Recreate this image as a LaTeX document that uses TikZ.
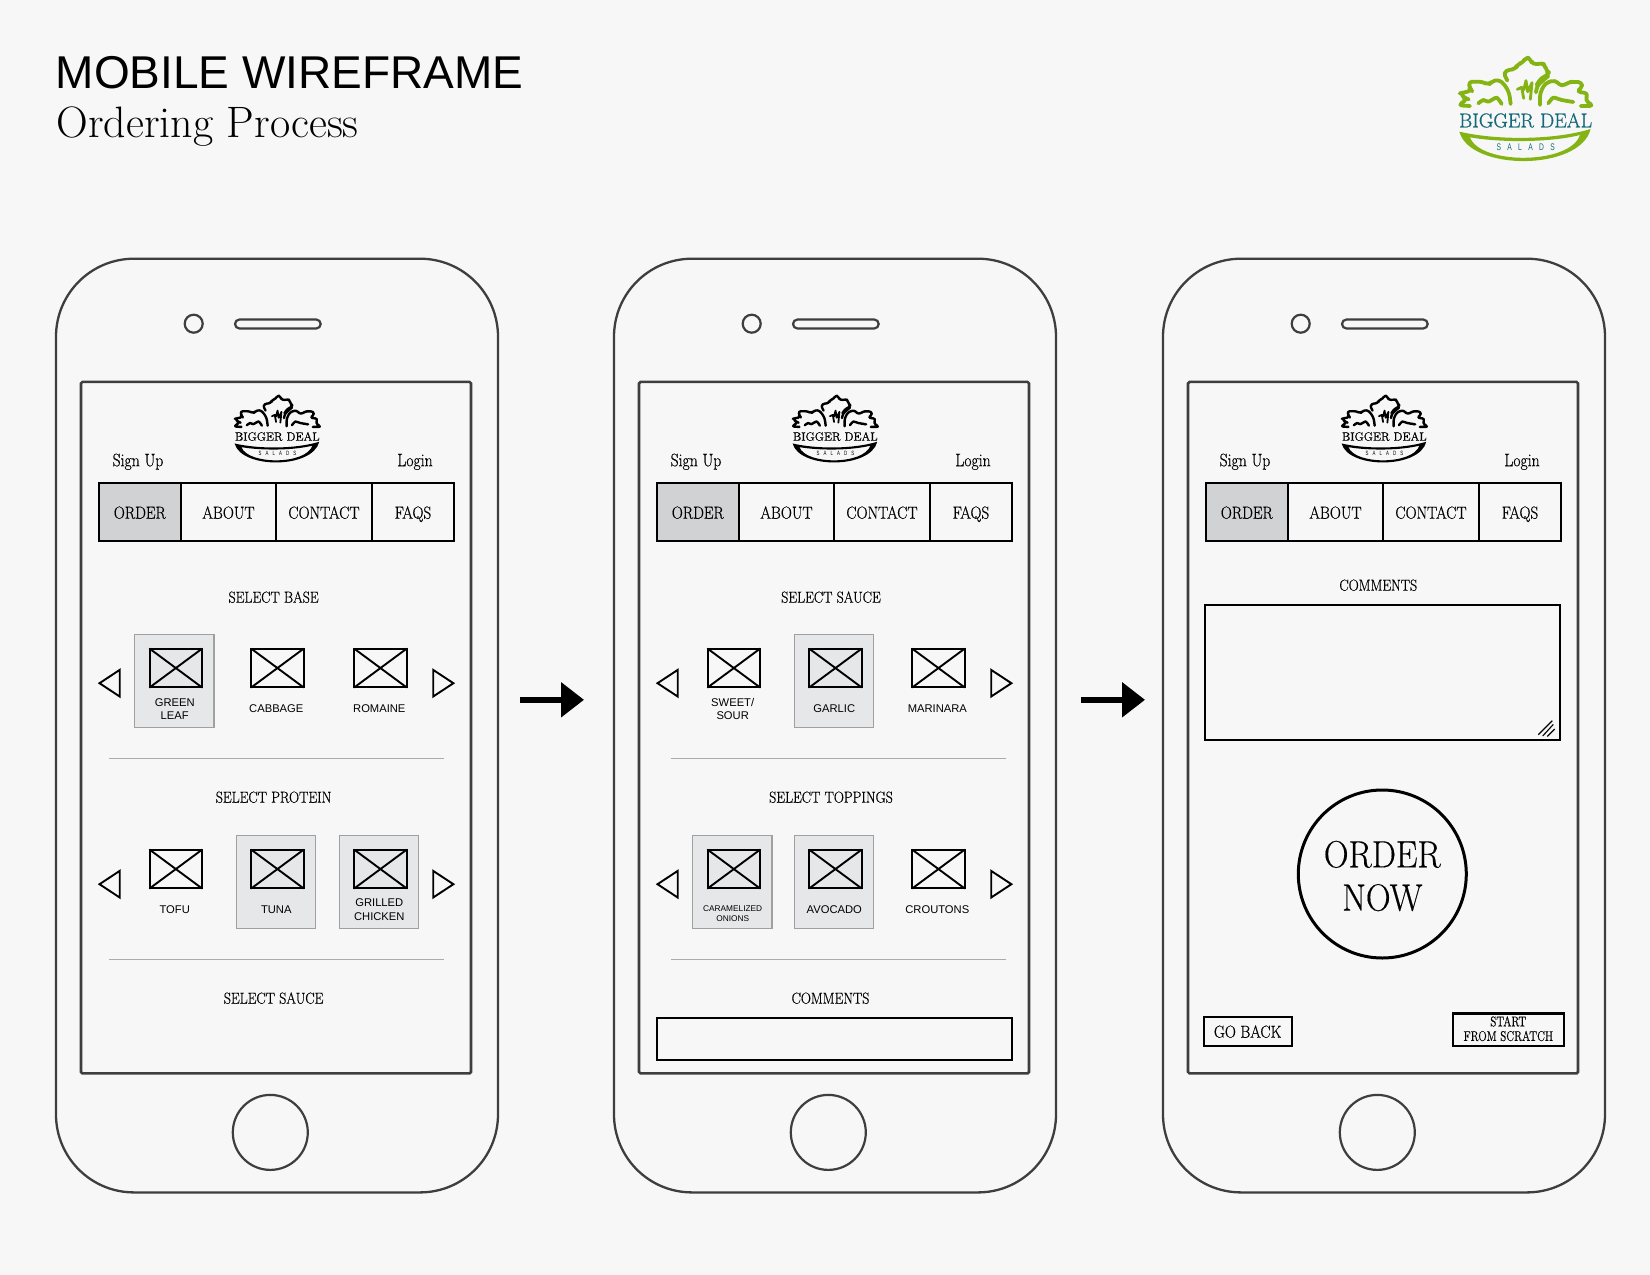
\documentclass[tikz,border=0pt]{standalone}
\usepackage{fontspec}
\usetikzlibrary{arrows.meta}
\setmainfont{Liberation Sans}
\newfontfamily\lmt{Latin Modern Roman}
\newfontfamily\lmb[FakeStretch=0.90,FakeBold=0.4]{Latin Modern Roman}
\newfontfamily\lmc[FakeStretch=0.87,FakeBold=0.5]{Latin Modern Roman}
\newfontfamily\lmn[FakeStretch=0.79,FakeBold=0.5]{Latin Modern Roman}
\newfontfamily\lml[FakeBold=0.8]{Latin Modern Roman}
\newfontfamily\spaced[FakeStretch=0.7,LetterSpace=66]{Liberation Sans}
\definecolor{paper}{HTML}{F7F7F7}
\definecolor{casing}{HTML}{3E3E3E}
\definecolor{navgrey}{HTML}{D1D2D4}
\definecolor{tilegrey}{HTML}{E6E7E9}
\definecolor{tileedge}{HTML}{A0A0A0}
\definecolor{rulegrey}{HTML}{ABABAB}
\definecolor{leafgreen}{HTML}{84B414}
\definecolor{tealtext}{HTML}{15697A}
\tikzset{
  boxnode/.style={inner sep=0pt,outer sep=0pt},
  phonebody/.style={boxnode,draw=casing,line width=2.3pt,rounded corners=78pt},
  screenbox/.style={boxnode,draw=casing,line width=2.6pt,rounded corners=1.5pt},
  navcell/.style={boxnode,draw=black,line width=2.2pt,text height=14pt,text depth=0pt,font=\lmc\fontsize{17.5}{20}\selectfont},
  inputbox/.style={boxnode,draw=black,line width=2.2pt},
  smallbtn/.style={boxnode,draw=black,line width=2.2pt},
  tilebox/.style={boxnode,draw=tileedge,fill=tilegrey,line width=1.2pt},
  imgbox/.style={boxnode,draw=black,line width=1.9pt},
  heading/.style={inner sep=0pt,anchor=base,font=\lmc\fontsize{16}{20}\selectfont},
  linktext/.style={inner sep=0pt,anchor=base,font=\lmc\fontsize{18}{20}\selectfont},
  btntext/.style={inner sep=0pt,align=center,font=\lmn\fontsize{14}{14.6}\selectfont},
  gobacktext/.style={inner sep=0pt,anchor=base,font=\lmc\fontsize{17.4}{20}\selectfont},
  ordertext/.style={inner sep=0pt,align=center,font=\lmb\fontsize{38}{43.3}\selectfont},
  caption/.style={inner sep=0pt,align=center,font=\fontsize{11.2}{13.4}\selectfont},
  tinycaption/.style={inner sep=0pt,align=center,font=\fontsize{8.3}{9.8}\selectfont},
  tridraw/.style={draw=black,line width=1.9pt,line join=miter},
  dividerline/.style={draw=rulegrey,line width=1pt},
  flowarrow/.style={draw=black,line width=5.5pt,-{Triangle[length=23pt,width=34pt]}},
}
% name, style, x1, y1, x2, y2, text
\newcommand\rectn[7]{%
  \pgfmathsetmacro{\rw}{#5-#3}\pgfmathsetmacro{\rh}{#6-#4}%
  \pgfmathsetmacro{\rx}{(#3+#5)/2}\pgfmathsetmacro{\ry}{(#4+#6)/2}%
  \node[#2,minimum width=\rw pt,minimum height=\rh pt] (#1) at (\rx,\ry) {#7};}
% prefix, ox, oy, scale, linewidth, main colour, text colour, big font size, small font size
\newcommand\brandlogo[9]{%
  \begin{scope}[shift={(#2,#3)},x=#4pt,y=-#4pt,draw=#6,line width=#5pt,line cap=round,line join=round]
    \draw[rounded corners=#5pt] (272,222)--(268,190)--(255,165)--(235,148)--(215,155)--(205,165)--(188,155)--(165,155)--(145,155)--(150,175)--(155,182)--(130,188)--(120,190)--(135,205)--(142,207)--(115,226)--(150,228);
    \draw plot[smooth,tension=.4] coordinates {(175,220)(190,210)(205,215)(230,203)(245,222)};
    \draw[rounded corners=#5pt] (262,152)--(250,128)--(268,118)--(287,118)--(292,102)--(310,98)--(318,80)--(332,88)--(338,104)--(362,100)--(375,103)--(378,122)--(390,130)--(372,140)--(358,150)--(350,165);
    \draw plot[smooth,tension=.5] coordinates {(348,187)(355,165)(385,138)};
    \draw[rounded corners=#5pt] (360,225)--(360,190)--(375,160)--(405,150)--(425,170)--(445,157)--(460,155)--(487,157)--(485,175)--(470,185)--(505,190)--(495,210)--(520,228)--(482,228);
    \draw plot[smooth,tension=.4] coordinates {(385,220)(400,203)(425,210)(460,216)};
    \draw[line width=.75*#5pt] (292,178)--(305,172)--(311,205) (311,180)--(318,152)--(323,185)--(336,158)--(331,208);
    \fill[#6,even odd rule] (118,305) .. controls (230,331) and (400,331) .. (512,297)
        .. controls (480,424) and (150,424) .. (118,305) -- cycle
        (150,322) .. controls (240,338) and (390,338) .. (480,315)
        .. controls (450,405) and (180,405) .. (150,322) -- cycle;
    \node[inner sep=0pt,anchor=base,text=#7,font=\lml\fontsize{#8}{#8}\selectfont] (#1big) at (317,292) {BIGGER DEAL};
    \node[inner sep=0pt,anchor=base,text=#7,font=\spaced\fontsize{#9}{#9}\selectfont] (#1small) at (317,362) {SALADS};
  \end{scope}}
% name, img left, img top, selected flag, caption, caption style, caption dy
\newcommand\picktile[7]{%
  \ifnum#4=1
    \pgfmathsetmacro{\tl}{#2-15}\pgfmathsetmacro{\tr}{#2+64.3}%
    \pgfmathsetmacro{\tt}{#3-14}\pgfmathsetmacro{\tb}{#3+78.7}%
    \rectn{#1t}{tilebox}{\tl}{\tt}{\tr}{\tb}{}
  \fi
  \pgfmathsetmacro{\ir}{#2+52.3}\pgfmathsetmacro{\ib}{#3+38.7}%
  \rectn{#1}{imgbox}{#2}{#3}{\ir}{\ib}{}
  \draw[line width=1.9pt,line cap=round] (#1.north west)--(#1.south east) (#1.north east)--(#1.south west);
  \pgfmathsetmacro{\cx}{#2+25}\pgfmathsetmacro{\cy}{#3+#7}%
  \node[#6] (#1c) at (\cx,\cy) {#5};}
% prefix, y of the row centre
\newcommand\rowarrows[2]{%
  \pgfmathsetmacro{\ta}{#2-13.3}\pgfmathsetmacro{\tb}{#2+13.3}%
  \draw[tridraw] (119.7,\ta) coordinate (#1la) -- (99.5,#2) -- (119.7,\tb) -- cycle;
  \draw[tridraw] (433.2,\ta) coordinate (#1ra) -- (453.4,#2) -- (433.2,\tb) -- cycle;}
% prefix
\newcommand\phonebase[1]{%
  \rectn{#1body}{phonebody}{56}{258}{498}{1191.7}{}
  \rectn{#1screen}{screenbox}{81}{381.2}{471}{1072.7}{}
  \node[boxnode,circle,draw=casing,line width=2.2pt,minimum size=18pt] (#1cam) at (193.7,323) {};
  \rectn{#1spk}{boxnode,draw=casing,line width=2.2pt,rounded corners=4.5pt}{235}{318.8}{320.7}{327.8}{}
  \node[boxnode,circle,draw=casing,line width=2.2pt,minimum size=75pt] (#1home) at (270.3,1131.7) {};
  \brandlogo{#1lg}{209.2}{377.2}{0.215}{2.4}{black}{black}{12}{6.2}
  \node[linktext] (#1su) at (138,465.5) {Sign Up};
  \node[linktext] (#1li) at (415,465.5) {Login};
  \rectn{#1n1}{navcell,fill=navgrey}{99}{482}{180.7}{540}{ORDER}
  \rectn{#1n2}{navcell}{180.7}{482}{276.3}{540}{ABOUT}
  \rectn{#1n3}{navcell}{276.3}{482}{371.7}{540}{CONTACT}
  \rectn{#1n4}{navcell}{371.7}{482}{454.3}{540}{FAQS}}
\begin{document}
\begin{tikzpicture}[x=1pt,y=-1pt]
\useasboundingbox (0,0) rectangle (1650,1275);
\fill[paper] (0,0) rectangle (1650,1275);
\node[inner sep=0pt,anchor=base west,font=\fontsize{46}{50}\selectfont] (title) at (55.5,88.5) {MOBILE WIREFRAME};
\node[inner sep=0pt,anchor=base west,font=\lmt\fontsize{44}{50}\selectfont] (subtitle) at (56.5,137.3) {Ordering Process};
\brandlogo{main}{1420}{30}{0.3333}{3.8}{leafgreen}{tealtext}{20}{9.6}

% ---------- phone 1
\begin{scope}[shift={(0,0.7)}]
\phonebase{a}
\node[heading] (ah1) at (273.6,602) {SELECT BASE};
\rowarrows{ar1}{682.5}
\picktile{at1}{149.7}{648}{1}{GREEN\\LEAF}{caption}{60.5}
\picktile{at2}{251.3}{648}{0}{CABBAGE}{caption}{59.7}
\picktile{at3}{354.3}{648}{0}{ROMAINE}{caption}{59.7}
\draw[dividerline] (109.3,757.3) coordinate (adv1) -- (444.3,757.3);
\node[heading] (ah2) at (273.6,802) {SELECT PROTEIN};
\rowarrows{ar2}{883.5}
\picktile{at4}{149.7}{849}{0}{TOFU}{caption}{60}
\picktile{at5}{251.3}{849}{1}{TUNA}{caption}{60}
\picktile{at6}{354.3}{849}{1}{GRILLED\\CHICKEN}{caption}{60}
\draw[dividerline] (109.3,958.6) coordinate (adv2) -- (444.3,958.6);
\node[heading] (ah3) at (273.6,1003) {SELECT SAUCE};
\end{scope}

% ---------- phone 2
\begin{scope}[shift={(558,0.7)}]
\phonebase{b}
\node[heading] (bh1) at (273,602) {SELECT SAUCE};
\rowarrows{br1}{682.5}
\picktile{bt1}{149.7}{648}{0}{SWEET/\\SOUR}{caption}{60.5}
\picktile{bt2}{251.3}{648}{1}{GARLIC}{caption}{59.7}
\picktile{bt3}{354.3}{648}{0}{MARINARA}{caption}{59.7}
\draw[dividerline] (113,757.3) coordinate (bdv1) -- (448,757.3);
\node[heading] (bh2) at (273,802) {SELECT TOPPINGS};
\rowarrows{br2}{883.5}
\picktile{bt4}{149.7}{849}{1}{CARAMELIZED\\ONIONS}{tinycaption}{64}
\picktile{bt5}{251.3}{849}{1}{AVOCADO}{caption}{60}
\picktile{bt6}{354.3}{849}{0}{CROUTONS}{caption}{60}
\draw[dividerline] (113,958.6) coordinate (bdv2) -- (448,958.6);
\node[heading] (bh3) at (272.5,1003) {COMMENTS};
\rectn{bcomment}{inputbox}{99}{1017}{454}{1059}{}
\end{scope}

% ---------- phone 3
\begin{scope}[shift={(1107,0.7)}]
\phonebase{c}
\node[heading] (ch1) at (271.3,590) {COMMENTS};
\rectn{ccomment}{inputbox}{97.7}{604.2}{453}{739.5}{}
\draw[line width=1.1pt] (431.3,734) coordinate (cg1) -- (445.3,720);
\draw[line width=1.1pt] (435.7,735.3) coordinate (cg2) -- (446.3,723.7);
\draw[line width=1.1pt] (440.3,735.7) coordinate (cg3) -- (447.7,728.3);
\node[boxnode,circle,draw=black,line width=3pt,minimum size=168pt] (corderc) at (275.3,873.3) {};
\node[ordertext] (cordert) at (275.3,875.3) {ORDER\\NOW};
\rectn{cback}{smallbtn}{96.7}{1016}{184.7}{1045.2}{}
\node[gobacktext] (cbackt) at (140.7,1037) {GO BACK};
\rectn{cstart}{smallbtn}{346}{1012.7}{457}{1045.2}{}
\node[btntext] (cstartt) at (401.3,1028) {START\\FROM SCRATCH};
\end{scope}

% ---------- flow arrows
\coordinate (f1s) at (520,699.8); \coordinate (f1e) at (584,699.8);
\coordinate (f2s) at (1081,699.8); \coordinate (f2e) at (1145,699.8);
\draw[flowarrow] (f1s) -- (f1e);
\draw[flowarrow] (f2s) -- (f2e);
\end{tikzpicture}
\end{document}
